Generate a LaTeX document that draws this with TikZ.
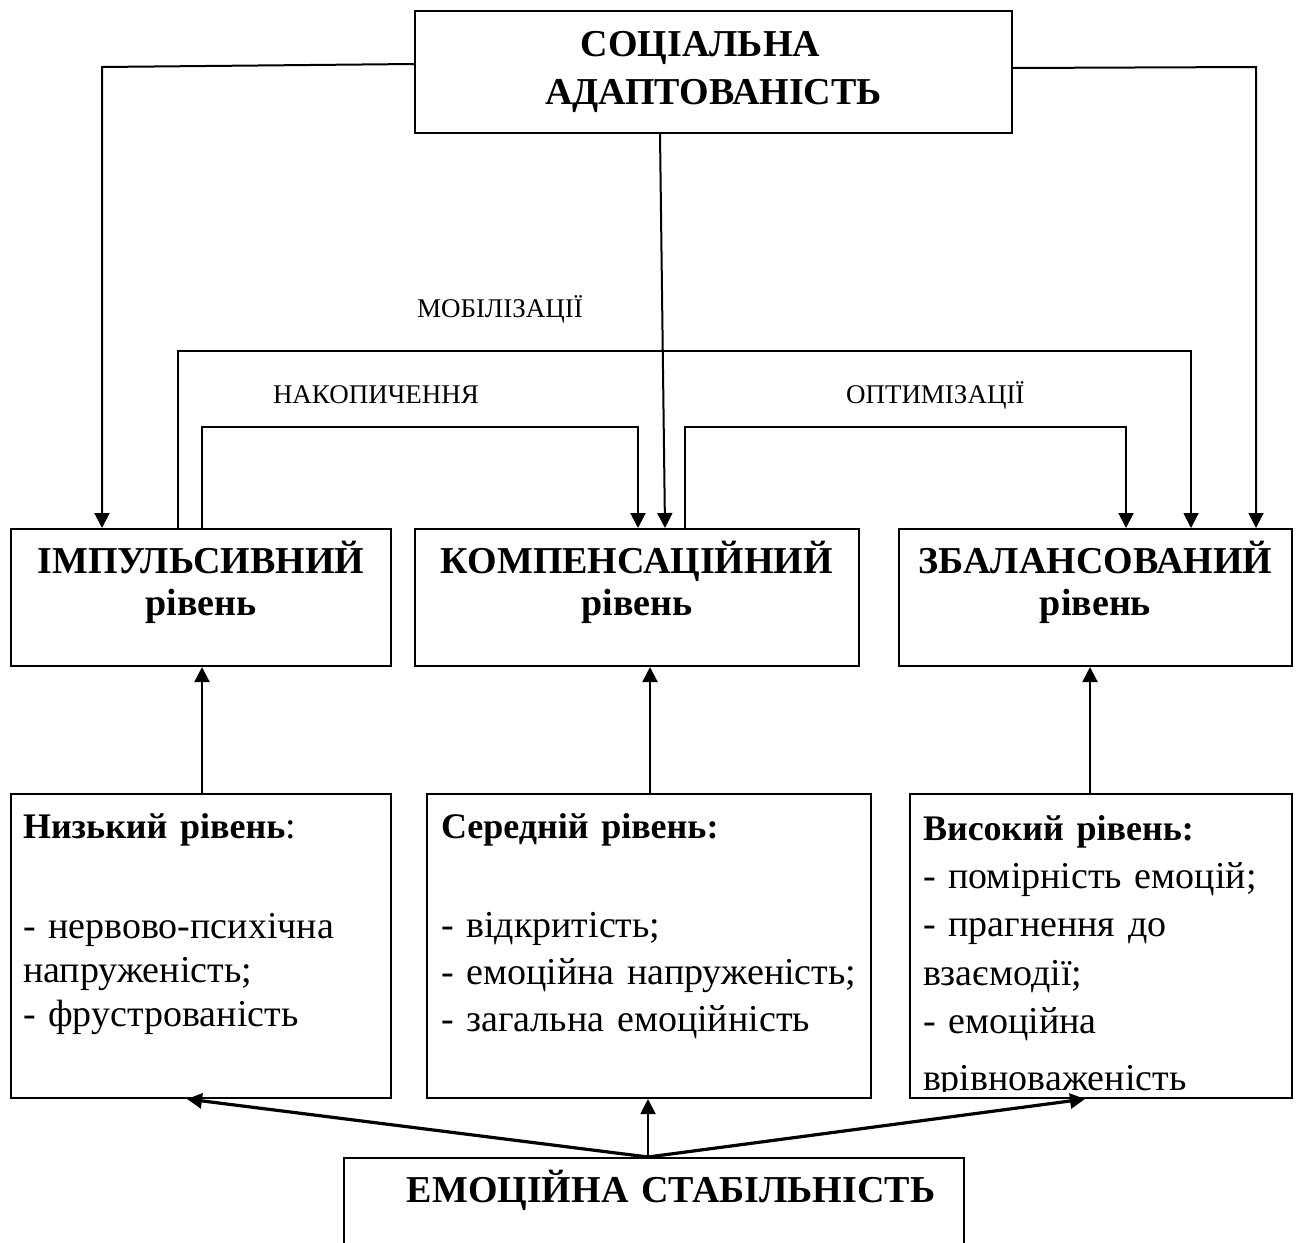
\documentclass[tikz,border=0pt]{standalone}
\usepackage{fontspec}
\setmainfont{Liberation Serif}
\usetikzlibrary{arrows.meta}

\begin{document}
\begin{tikzpicture}[
                    x=0.5pt, y=-0.5pt,
                    line width=1pt,
                    >={Triangle[length=7.5pt,width=7.5pt]},
                    box/.style={draw, anchor=north west, inner sep=0pt},
                    title/.style={font=\bfseries\fontsize{19}{21}\selectfont, align=center,
                                  text width=185pt, anchor=base, inner sep=0pt},
                    lbl/.style={font=\fontsize{13.5}{15}\selectfont, anchor=base west, inner sep=0pt},
                    list/.style={font=\fontsize{19}{22}\selectfont, align=left,
                                 text width=225pt, anchor=base west, inner sep=0pt},
                    head/.style={font=\bfseries\fontsize{18}{22}\selectfont},
                    fatarrow/.style={->, line width=1.6pt},
                ]
                \useasboundingbox (0,0) rectangle (1299,1242);
                \clip (0,0) rectangle (1299,1242);

                \node[box, minimum width=298.5pt, minimum height=61pt, align=center,
                      font=\bfseries\fontsize{19}{24}\selectfont] (soc) at (414,10)
                      {СОЦІАЛЬНА\hspace*{13pt}\\АДАПТОВАНІСТЬ};

                \node[box, minimum width=190pt, minimum height=68.5pt] (imp) at (10,528) {};
                \node[box, minimum width=222pt, minimum height=68.5pt] (komp) at (414,528) {};
                \node[box, minimum width=196.5pt, minimum height=68.5pt] (zbal) at (898,528) {};
                \node[title] (imp-t) at ([yshift=-22.5pt]imp.north) {ІМПУЛЬСИВНИЙ\\рівень};
                \node[title, text width=215pt] (komp-t) at ([yshift=-22.5pt]komp.north) {КОМПЕНСАЦІЙНИЙ\\рівень};
                \node[title] (zbal-t) at ([yshift=-22.5pt]zbal.north) {ЗБАЛАНСОВАНИЙ\\рівень};

                \node[box, minimum width=190pt, minimum height=152pt] (low) at (10,793) {};
                \node[box, minimum width=222pt, minimum height=152pt] (mid) at (426,793) {};
                \node[box, minimum width=191pt, minimum height=152pt] (high) at (909,793) {};
                \node[list] (low-t) at ([xshift=6pt,yshift=-22.5pt]low.north west)
                      {{\bfseries\fontsize{18}{22}\selectfont Низький рівень}:\\[28pt]- нервово-психічна\\напруженість;\\- фрустрованість};
                \node[list, font=\fontsize{19}{23.5}\selectfont] (mid-t) at ([xshift=7pt,yshift=-22.5pt]mid.north west)
                      {{\bfseries\fontsize{18}{22}\selectfont Середній рівень:}\\[26pt]- відкритість;\\- емоційна напруженість;\\- загальна емоційність};
                \begin{scope}
                  \clip (high.north west) rectangle ([yshift=4pt]high.south east);
                  \node[list, font=\fontsize{19}{24.2}\selectfont] (high-t) at ([xshift=6.5pt,yshift=-23.5pt]high.north west)
                        {{\bfseries\fontsize{18}{22}\selectfont Високий рівень:}\\- помірність емоцій;\\- прагнення до\\взаємодії;\\- емоційна\\[4pt]врівноваженість};
                \end{scope}

                \node[box, minimum width=310pt, minimum height=72pt] (emo) at (343,1157) {};
                \node[title, text width=300pt] (emo-t) at ([xshift=8.5pt,yshift=-22.5pt]emo.north) {ЕМОЦІЙНА СТАБІЛЬНІСТЬ};

                \node[lbl] (mob) at (416,317) {МОБІЛІЗАЦІЇ};
                \node[lbl] (nak) at (272,403) {НАКОПИЧЕННЯ};
                \node[lbl] (opt) at (845,403) {ОПТИМІЗАЦІЇ};

                \draw[->] ([yshift=4pt]soc.west) -- (102,67) -- ([xshift=46pt]imp.north west);
                \draw[->] ([yshift=2pt]soc.east) -- (1256,67) -- ([xshift=179pt]zbal.north west);
                \draw[->] ([xshift=123pt]soc.south west) -- ([xshift=125.5pt]komp.north west);

                \draw[->] ([xshift=84pt]imp.north west) -- (178,351) -- (1191,351) -- ([xshift=146.5pt]zbal.north west);
                \draw[->] ([xshift=96pt]imp.north west) -- (202,427) -- (638,427) -- ([xshift=112pt]komp.north west);
                \draw[->] ([xshift=135.5pt]komp.north west) -- (685,427) -- (1126,427) -- ([xshift=114pt]zbal.north west);

                \draw[->] ([xshift=96pt]low.north west) -- ([xshift=96pt]imp.south west);
                \draw[->] ([xshift=112pt]mid.north west) -- ([xshift=118pt]komp.south west);
                \draw[->] ([xshift=90.5pt]high.north west) -- ([xshift=96pt]zbal.south west);

                \draw[fatarrow] ([xshift=152.5pt]emo.north west) -- ([xshift=88.5pt]low.south west);
                \draw[->] ([xshift=152.5pt]emo.north west) -- ([xshift=111pt]mid.south west);
                \draw[fatarrow] ([xshift=152.5pt]emo.north west) -- ([xshift=88pt]high.south west);
            \end{tikzpicture}
\end{document}
